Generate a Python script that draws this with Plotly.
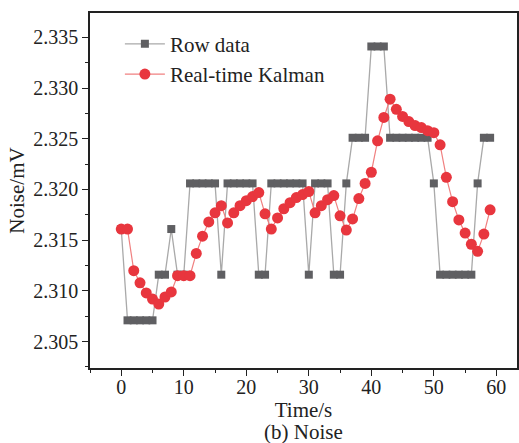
import plotly.graph_objects as go

time_s = list(range(60))

row_data = [
    2.3161, 2.3071, 2.3071, 2.3071, 2.3071, 2.3071, 2.3116, 2.3116, 2.3161, 2.3116,
    2.3116, 2.3206, 2.3206, 2.3206, 2.3206, 2.3206, 2.3116, 2.3206, 2.3206, 2.3206,
    2.3206, 2.3206, 2.3116, 2.3116, 2.3206, 2.3206, 2.3206, 2.3206, 2.3206, 2.3206,
    2.3116, 2.3206, 2.3206, 2.3206, 2.3116, 2.3116, 2.3206, 2.3251, 2.3251, 2.3251,
    2.3341, 2.3341, 2.3341, 2.3251, 2.3251, 2.3251, 2.3251, 2.3251, 2.3251, 2.3251,
    2.3206, 2.3116, 2.3116, 2.3116, 2.3116, 2.3116, 2.3116, 2.3206, 2.3251, 2.3251,
]

kalman = [
    2.3161, 2.3161, 2.3120, 2.3108, 2.3098, 2.3092, 2.3087, 2.3094, 2.3099, 2.3115,
    2.3115, 2.3115, 2.3137, 2.3154, 2.3168, 2.3177, 2.3184, 2.3167, 2.3177, 2.3184,
    2.3189, 2.3193, 2.3197, 2.3176, 2.3161, 2.3172, 2.3181, 2.3187, 2.3192, 2.3195,
    2.3198, 2.3177, 2.3184, 2.3190, 2.3194, 2.3174, 2.3160, 2.3171, 2.3191, 2.3206,
    2.3217, 2.3248, 2.3271, 2.3289, 2.3279, 2.3272, 2.3267, 2.3263, 2.3261, 2.3258,
    2.3256, 2.3244, 2.3212, 2.3188, 2.3170, 2.3157, 2.3146, 2.3139, 2.3156, 2.3180,
]

x_ticks = [0, 10, 20, 30, 40, 50, 60]
y_ticks = [2.305, 2.310, 2.315, 2.320, 2.325, 2.330, 2.335]
y_tick_labels = ["2.305", "2.310", "2.315", "2.320", "2.325", "2.330", "2.335"]

FONT = "Liberation Serif, Times New Roman, serif"

fig = go.Figure()
fig.add_trace(go.Scatter(
    x=time_s, y=row_data, name="Row data", mode="lines+markers",
    line=dict(color="#a9a9a9", width=1.3),
    marker=dict(symbol="square", size=8, color="#5f5f62", line=dict(width=0)),
))
fig.add_trace(go.Scatter(
    x=time_s, y=kalman, name="Real-time Kalman", mode="lines+markers",
    line=dict(color="#f08080", width=1.2),
    marker=dict(symbol="circle", size=11, color="#e8363e", line=dict(width=0)),
))

axis_common = dict(
    showline=True, linecolor="#222", linewidth=1.5, mirror=True,
    ticks="outside", ticklen=6, tickwidth=1.3, tickcolor="#222",
    showgrid=False, zeroline=False, automargin=False,
    tickfont=dict(family=FONT, size=20, color="#222"),
)

fig.update_xaxes(
    range=[-5, 63.3], tickvals=x_ticks, ticklabelstandoff=-6,
    minor=dict(ticks="outside", ticklen=3, tickwidth=1.2, tickcolor="#222", dtick=5, tick0=0),
    title=dict(text="Time/s", font=dict(family=FONT, size=21, color="#222"), standoff=0),
    **axis_common,
)
fig.update_yaxes(
    range=[2.3024, 2.3374], tickvals=y_ticks, ticktext=y_tick_labels,
    minor=dict(ticks="outside", ticklen=3, tickwidth=1.2, tickcolor="#222", dtick=0.0025, tick0=2.3),
    title=dict(text="Noise/mV", font=dict(family=FONT, size=21, color="#222"), standoff=3),
    **axis_common,
)

fig.add_annotation(
    text="(b) Noise", xref="paper", yref="paper", x=0.5, y=0, yshift=-50,
    showarrow=False, xanchor="center", yanchor="top",
    font=dict(family=FONT, size=21, color="#222"),
)

fig.update_layout(
    width=519, height=443,
    margin=dict(l=90, r=2, t=13, b=75),
    paper_bgcolor="white", plot_bgcolor="white",
    showlegend=True,
    legend=dict(
        x=0.07, y=0.97, xanchor="left", yanchor="top",
        bgcolor="rgba(0,0,0,0)", borderwidth=0,
        font=dict(family=FONT, size=21, color="#222"),
        itemwidth=40, tracegroupgap=0,
    ),
)

fig.write_html("out.html")
